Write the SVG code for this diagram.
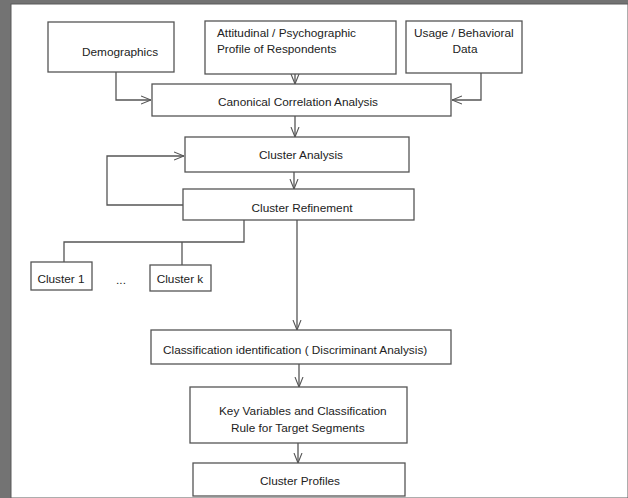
<svg xmlns="http://www.w3.org/2000/svg" width="628" height="498" viewBox="0 0 628 498">
<defs>
<marker id="arr" viewBox="0 0 10 10" refX="10" refY="5" markerWidth="10" markerHeight="10" markerUnits="userSpaceOnUse" orient="auto">
<path d="M0,1 L10,5 L0,9" fill="none" stroke="#555" stroke-width="1.1"/>
</marker>
</defs>
<style>
.box{fill:#fff;stroke:#555;stroke-width:1.3}
.t{font-family:"Liberation Sans",Arial,sans-serif;font-size:11.8px;fill:#222}
.c{text-anchor:middle}
.ln{fill:none;stroke:#555;stroke-width:1.3}
</style>
<rect x="0" y="0" width="628" height="498" fill="#737373"/>
<rect x="11" y="4" width="617" height="494" fill="#fff" stroke="#5a5a5a" stroke-width="1"/>
<g id="connectors">
<path class="ln" d="M116,72 V100 H151" marker-end="url(#arr)"/>
<path class="ln" d="M481,73 V100 H452" marker-end="url(#arr)"/>
<path class="ln" d="M295,74 V84" marker-end="url(#arr)"/>
<path class="ln" d="M295,116 V137" marker-end="url(#arr)"/>
<path class="ln" d="M294,172 V189" marker-end="url(#arr)"/>
<path class="ln" d="M183,205 H107 V156 H184" marker-end="url(#arr)"/>
<path class="ln" d="M244,220 V242 H64 V262"/>
<path class="ln" d="M182,242 V265"/>
<path class="ln" d="M297,220 V330" marker-end="url(#arr)"/>
<path class="ln" d="M299,364 V387" marker-end="url(#arr)"/>
<path class="ln" d="M298,443 V463" marker-end="url(#arr)"/>
</g>
<g id="demographics">
<rect class="box" x="48" y="22" width="126" height="50"/>
<text class="t c" x="120" y="56">Demographics</text>
</g>
<g id="attitudinal">
<rect class="box" x="205" y="21" width="191" height="53"/>
<text class="t" x="217" y="37">Attitudinal / Psychographic</text>
<text class="t" x="217" y="53">Profile of Respondents</text>
</g>
<g id="usage">
<rect class="box" x="406" y="21" width="116" height="52"/>
<text class="t" x="414" y="37">Usage / Behavioral</text>
<text class="t c" x="465" y="53">Data</text>
</g>
<g id="canonical">
<rect class="box" x="152" y="84" width="299" height="32"/>
<text class="t c" x="298" y="106">Canonical Correlation Analysis</text>
</g>
<g id="cluster-analysis">
<rect class="box" x="185" y="137" width="224" height="35"/>
<text class="t c" x="301" y="159">Cluster Analysis</text>
</g>
<g id="cluster-refinement">
<rect class="box" x="183" y="189" width="231" height="31"/>
<text class="t c" x="302" y="212">Cluster Refinement</text>
</g>
<g id="cluster-1">
<rect class="box" x="31" y="262" width="61" height="28"/>
<text class="t c" x="61" y="283">Cluster 1</text>
</g>
<g id="ellipsis">
<text class="t c" x="121" y="284">...</text>
</g>
<g id="cluster-k">
<rect class="box" x="150" y="265" width="61" height="26"/>
<text class="t c" x="180" y="283">Cluster k</text>
</g>
<g id="classification">
<rect class="box" x="151" y="330" width="300" height="34"/>
<text class="t" x="163" y="354">Classification identification ( Discriminant Analysis)</text>
</g>
<g id="key-variables">
<rect class="box" x="190" y="387" width="217" height="56"/>
<text class="t" x="219" y="415">Key Variables and Classification</text>
<text class="t" x="231" y="432">Rule for Target Segments</text>
</g>
<g id="cluster-profiles">
<rect class="box" x="193" y="463" width="212" height="33"/>
<text class="t c" x="300" y="485">Cluster Profiles</text>
</g>
</svg>
